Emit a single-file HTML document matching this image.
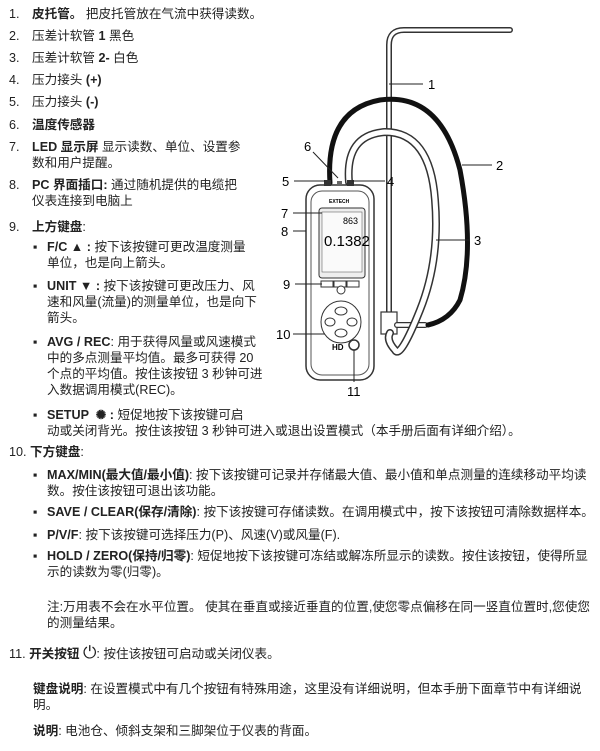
<!DOCTYPE html>
<html><head><meta charset="utf-8"><style>
body{margin:0;width:600px;height:751px;background:#fff;position:relative;font-family:"Liberation Sans","Noto Sans CJK SC",sans-serif;font-size:12.6px;color:#222;overflow:hidden}
.t{position:absolute;white-space:nowrap;line-height:16px}
b{font-weight:bold}
</style></head><body>
<div class="t" style="left:9px;top:6px">1.</div><div class="t" style="left:32px;top:6px"><b>皮托管。</b> 把皮托管放在气流中获得读数。</div>
<div class="t" style="left:9px;top:28px">2.</div><div class="t" style="left:32px;top:28px">压差计软管 <b>1</b> 黑色</div>
<div class="t" style="left:9px;top:50px">3.</div><div class="t" style="left:32px;top:50px">压差计软管 <b>2-</b> 白色</div>
<div class="t" style="left:9px;top:72px">4.</div><div class="t" style="left:32px;top:72px">压力接头 <b>(+)</b></div>
<div class="t" style="left:9px;top:94px">5.</div><div class="t" style="left:32px;top:94px">压力接头 <b>(-)</b></div>
<div class="t" style="left:9px;top:117px">6.</div><div class="t" style="left:32px;top:117px"><b>温度传感器</b></div>
<div class="t" style="left:9px;top:139px">7.</div><div class="t" style="left:32px;top:139px"><b>LED 显示屏</b> 显示读数、单位、设置参<br>数和用户提醒。</div>
<div class="t" style="left:9px;top:177px">8.</div><div class="t" style="left:32px;top:177px"><b>PC 界面插口:</b> 通过随机提供的电缆把<br>仪表连接到电脑上</div>
<div class="t" style="left:9px;top:219px">9.</div><div class="t" style="left:32px;top:219px"><b>上方键盘</b>:</div>
<div class="t" style="left:33px;top:239px">▪</div><div class="t" style="left:47px;top:239px"><b>F/C ▲ :</b> 按下该按键可更改温度测量<br>单位，也是向上箭头。</div>
<div class="t" style="left:33px;top:278px">▪</div><div class="t" style="left:47px;top:278px"><b>UNIT ▼ :</b> 按下该按键可更改压力、风<br>速和风量(流量)的测量单位，也是向下<br>箭头。</div>
<div class="t" style="left:33px;top:334px">▪</div><div class="t" style="left:47px;top:334px"><b>AVG / REC</b>: 用于获得风量或风速模式<br>中的多点测量平均值。最多可获得 20<br>个点的平均值。按住该按钮 3 秒钟可进<br>入数据调用模式(REC)。</div>
<div class="t" style="left:33px;top:407px">▪</div><div class="t" style="left:47px;top:407px"><b>SETUP &nbsp;✺ :</b> 短促地按下该按键可启<br>动或关闭背光。按住该按钮 3 秒钟可进入或退出设置模式（本手册后面有详细介绍）。</div>
<div class="t" style="left:9px;top:444px">10. <b>下方键盘</b>:</div>
<div class="t" style="left:33px;top:467px">▪</div><div class="t" style="left:47px;top:467px"><b>MAX/MIN(最大值/最小值)</b>: 按下该按键可记录并存储最大值、最小值和单点测量的连续移动平均读<br>数。按住该按钮可退出该功能。</div>
<div class="t" style="left:33px;top:504px">▪</div><div class="t" style="left:47px;top:504px"><b>SAVE / CLEAR(保存/清除)</b>: 按下该按键可存储读数。在调用模式中，按下该按钮可清除数据样本。</div>
<div class="t" style="left:33px;top:527px">▪</div><div class="t" style="left:47px;top:527px"><b>P/V/F</b>: 按下该按键可选择压力(P)、风速(V)或风量(F).</div>
<div class="t" style="left:33px;top:548px">▪</div><div class="t" style="left:47px;top:548px"><b>HOLD / ZERO(保持/归零)</b>: 短促地按下该按键可冻结或解冻所显示的读数。按住该按钮，使得所显<br>示的读数为零(归零)。</div>
<div class="t" style="left:47px;top:599px">注:万用表不会在水平位置。 使其在垂直或接近垂直的位置,使您零点偏移在同一竖直位置时,您使您<br>的测量结果。</div>
<div class="t" style="left:9px;top:645px">11. <b>开关按钮</b> <span style="font-size:17px">⏻</span>: 按住该按钮可启动或关闭仪表。</div>
<div class="t" style="left:33px;top:681px"><b>键盘说明</b>: 在设置模式中有几个按钮有特殊用途，这里没有详细说明，但本手册下面章节中有详细说<br>明。</div>
<div class="t" style="left:33px;top:723px"><b>说明</b>: 电池仓、倾斜支架和三脚架位于仪表的背面。</div>

<svg style="position:absolute;left:0;top:0" width="600" height="751">
<g fill="none" stroke-linecap="round">
<path d="M389 320 L389 45 Q389 30 404 30 L510 30" stroke="#333" stroke-width="6"/>
<path d="M389 320 L389 45 Q389 30 404 30 L510 30" stroke="#fff" stroke-width="3"/>
<rect x="381" y="312" width="16" height="22" fill="#fff" stroke="#333" stroke-width="1.2"/>
<path d="M397 325 L425 325" stroke="#333" stroke-width="6"/><path d="M397 325 L425 325" stroke="#fff" stroke-width="3.5"/>
<path d="M349 182 Q345 135 385 132 Q430 132 435 200 Q440 260 420 310 Q400 360 395 350 Q386 340 390 333" stroke="#333" stroke-width="8"/>
<path d="M349 182 Q345 135 385 132 Q430 132 435 200 Q440 260 420 310 Q400 360 395 350 Q386 340 390 333" stroke="#fff" stroke-width="5"/>
<path d="M330 183 Q325 110 380 100 Q440 92 460 170 Q475 250 460 300 Q450 320 428 325" stroke="#111" stroke-width="5"/>
</g>
<rect x="306" y="185" width="68" height="195" rx="14" fill="#fff" stroke="#333" stroke-width="1.5"/>
<rect x="311" y="191" width="58" height="184" rx="11" fill="none" stroke="#555" stroke-width="1"/>
<rect x="319" y="208" width="46" height="70" rx="3" fill="#eee" stroke="#333"/>
<rect x="322" y="212" width="40" height="60" fill="#fafafa" stroke="#666" stroke-width=".6"/>
<text x="343" y="224" font-size="9" font-family="Liberation Sans">863</text>
<text x="324" y="246" font-size="15" font-family="Liberation Sans">0.1382</text>
<text x="329" y="203" font-size="5" font-weight="bold" font-family="Liberation Sans">EXTECH</text>
<rect x="321" y="281" width="12" height="6" fill="#fff" stroke="#333"/><rect x="334" y="281" width="12" height="6" fill="#fff" stroke="#333"/><rect x="347" y="281" width="12" height="6" fill="#fff" stroke="#333"/>
<circle cx="341" cy="290" r="4" fill="#fff" stroke="#333"/>
<ellipse cx="341" cy="322" rx="20" ry="21" fill="#fff" stroke="#333"/>
<ellipse cx="341" cy="311" rx="6" ry="4" fill="#fff" stroke="#333"/><ellipse cx="330" cy="322" rx="5" ry="4" fill="#fff" stroke="#333"/><ellipse cx="352" cy="322" rx="5" ry="4" fill="#fff" stroke="#333"/><ellipse cx="341" cy="333" rx="6" ry="4" fill="#fff" stroke="#333"/>
<text x="332" y="350" font-size="8" font-weight="bold" font-family="Liberation Sans">HD</text>
<circle cx="354" cy="345" r="5" fill="#fff" stroke="#333" stroke-width="1.5"/>
<rect x="324" y="180" width="7" height="6" fill="#333"/><rect x="347" y="180" width="7" height="6" fill="#333"/><rect x="337" y="181" width="5" height="5" fill="#666"/>
<g stroke="#222" stroke-width="1" font-size="13" font-family="Liberation Sans">
<line x1="389" y1="84" x2="423" y2="84"/><text x="428" y="89" stroke="none">1</text>
<line x1="462" y1="165" x2="492" y2="165"/><text x="496" y="170" stroke="none">2</text>
<line x1="436" y1="240" x2="470" y2="240"/><text x="474" y="245" stroke="none">3</text>
<line x1="352" y1="181" x2="385" y2="181"/><text x="387" y="186" stroke="none">4</text>
<line x1="294" y1="181" x2="325" y2="181"/><text x="282" y="186" stroke="none">5</text>
<line x1="313" y1="152" x2="338" y2="178"/><text x="304" y="151" stroke="none">6</text>
<line x1="293" y1="213" x2="322" y2="213"/><text x="281" y="218" stroke="none">7</text>
<line x1="293" y1="231" x2="306" y2="231"/><text x="281" y="236" stroke="none">8</text>
<line x1="295" y1="284" x2="322" y2="284"/><text x="283" y="289" stroke="none">9</text>
<line x1="293" y1="334" x2="325" y2="334"/><text x="276" y="339" stroke="none">10</text>
<line x1="354" y1="350" x2="354" y2="382"/><text x="347" y="396" stroke="none">11</text>
</g>
</svg>
</body></html>
